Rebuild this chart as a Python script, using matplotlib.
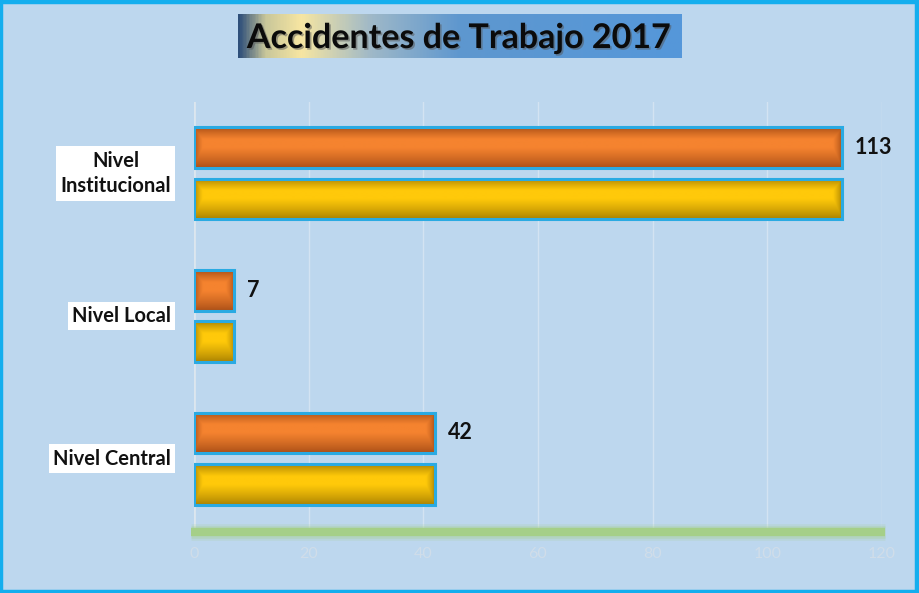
import numpy as np
import matplotlib
matplotlib.use("Agg")
import matplotlib.pyplot as plt
from matplotlib.patches import Rectangle
from matplotlib.colors import LinearSegmentedColormap
import matplotlib.patheffects as pe

# ---- data ----
categories = ["Nivel Central", "Nivel Local", "Nivel\nInstitucional"]
serie_a = [42, 7, 113]      # orange (labelled)
serie_b = [42, 7, 113]      # yellow
xticks = [0, 20, 40, 60, 80, 100, 120]
title = "Accidentes de Trabajo 2017"

FONT = "Lato"
BG = "#BDD7EE"
W, H = 920, 593
fig = plt.figure(figsize=(W / 100, H / 100), dpi=100, facecolor=BG)

# figure border
fig.patches.append(Rectangle((0.0015, 0.0025), 0.9955, 0.994, transform=fig.transFigure,
                             fill=False, edgecolor="#14AEEE", linewidth=3.2, zorder=10))

ax = fig.add_axes([194 / W, 1 - 530 / H, (882 - 194) / W, (530 - 102) / H])
ax.set_facecolor(BG)
ax.set_xlim(0, 120)
ax.set_ylim(-0.5, 2.5)
for s in ax.spines.values():
    s.set_visible(False)

# gridlines
for t in xticks[1:]:
    ax.axvline(t, color="#D3E3F2", lw=1.0, zorder=0)
ax.axvline(0, color="#DCE6EE", lw=2.0, zorder=1)

ax.set_xticks(xticks)
ax.set_xticklabels([str(t) for t in xticks], color="#D0DDE9", fontsize=11.5,
                   family=FONT)
ax.tick_params(axis="x", length=0, pad=12)
ax.set_yticks([])

# green bottom band with glow
for lw, a in [(12, 0.18), (9, 0.3), (6, 1.0)]:
    ax.plot([-0.6, 120.6], [-0.5 - 0.012, -0.5 - 0.012], color="#A5CF88", lw=lw, alpha=a,
            solid_capstyle="butt", clip_on=False, zorder=3)

y = np.arange(len(categories))
bh = 0.285
off = 0.18

px_per_x = (882 - 194) / 120.0
px_per_y = (530 - 102) / 3.0


def shaded_bar(x0, yc, w, h, center, edge):
    cmap = LinearSegmentedColormap.from_list("c", [edge, center])
    wpx = max(int(w * px_per_x), 2)
    hpx = max(int(h * px_per_y), 2)
    xx = np.arange(wpx) + 0.5
    yy = np.arange(hpx) + 0.5
    dx = np.minimum(xx, wpx - xx)
    # darker at bottom than at top
    dyb = yy / (hpx * 0.5)
    dyt = (hpx - yy) / (hpx * 0.3)
    fy = np.clip(np.minimum(dyb, dyt), 0, 1) ** 0.8
    fx = np.clip(dx / 9.0, 0, 1) ** 0.7
    img = np.minimum(fx[None, :], fy[:, None])
    img = 0.12 + 0.88 * img
    ax.imshow(img, extent=(x0, x0 + w, yc - h / 2, yc + h / 2), cmap=cmap,
              vmin=0, vmax=1, aspect="auto", origin="lower", zorder=4,
              interpolation="bilinear")
    rect = Rectangle((x0, yc - h / 2), w, h, fill=False, edgecolor="#2AAAE2",
                     lw=2.2, zorder=5)
    ax.add_patch(rect)


for i in range(len(categories)):
    shaded_bar(0, y[i] + off, serie_a[i], bh, "#F5832F", "#9C4512")
    shaded_bar(0, y[i] - off, serie_b[i], bh, "#FFC90A", "#9A7500")
    ax.text(serie_a[i] + 2.3, y[i] + off, str(serie_a[i]), va="center", ha="left",
            fontsize=15.5, fontweight="bold", family=FONT, color="#111111",
            zorder=6)

# category labels with white boxes
for i, c in enumerate(categories):
    ax.text(-4.0, y[i], c, ha="right", va="center", multialignment="center",
            fontsize=14.5, fontweight="bold", family=FONT, color="#111111",
            linespacing=1.35,
            bbox=dict(boxstyle="square,pad=0.22", facecolor="white", edgecolor="none"),
            zorder=6)

# title with gradient box
tax = fig.add_axes([238 / W, 1 - 58 / H, (682 - 238) / W, 44 / H])
tax.set_axis_off()
tcm = LinearSegmentedColormap.from_list("t", [
    (0.0, "#2E4F7A"), (0.06, "#C9C79A"), (0.14, "#F7E6A2"), (0.3, "#9EB8C8"),
    (0.5, "#5E97CF"), (1.0, "#5597DA")])
grad = np.linspace(0, 1, 400)[None, :]
tax.imshow(grad, cmap=tcm, aspect="auto", extent=(0, 1, 0, 1))
tax.set_xlim(0, 1)
tax.set_ylim(0, 1)
fig.text(459 / W, 1 - 38 / H, title, ha="center", va="center", fontsize=24.5,
         fontweight="bold", family=FONT, color="#0B0B0B",
         path_effects=[pe.withSimplePatchShadow(offset=(1.2, -1.2), shadow_rgbFace="#555555",
                                                alpha=0.5)])

fig.savefig("out.png", dpi=100, facecolor=BG)
